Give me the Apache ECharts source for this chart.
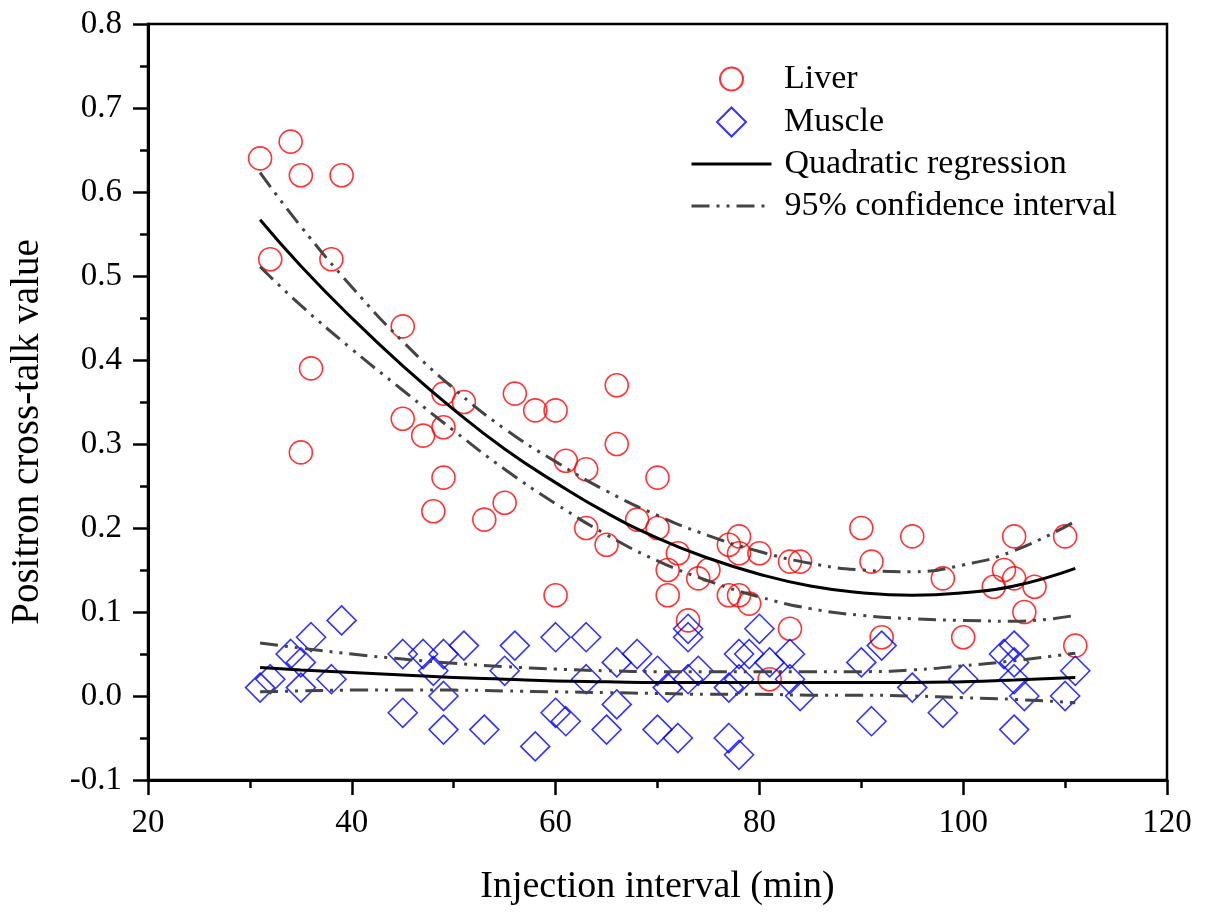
<!DOCTYPE html>
<html>
<head>
<meta charset="utf-8">
<script src="https://cdn.jsdelivr.net/npm/echarts@6/dist/echarts.min.js"></script>
<style>
html,body{margin:0;padding:0;background:#fff;}
#chart{width:1208px;height:912px;}
</style>
</head>
<body>
<div id="chart"></div>
<script>
// Scatter data
const liverX = [31,32,34,35,35,36,38,39,45,45,47,48,49,49,49,51,53,55,56,58,60,60,61,63,63,65,66,66,68,70,70,71,71,72,73,74,75,77,77,78,78,78,79,80,81,83,83,84,90,91,92,95,98,100,103,104,105,105,106,107,110,111];
const liverY = [0.64,0.52,0.66,0.62,0.29,0.39,0.52,0.62,0.44,0.33,0.31,0.22,0.36,0.32,0.26,0.35,0.21,0.23,0.36,0.34,0.34,0.12,0.28,0.27,0.20,0.18,0.37,0.30,0.21,0.26,0.20,0.15,0.12,0.17,0.09,0.14,0.15,0.18,0.12,0.19,0.17,0.12,0.11,0.17,0.02,0.16,0.08,0.16,0.20,0.16,0.07,0.19,0.14,0.07,0.13,0.15,0.19,0.14,0.10,0.13,0.19,0.06];
const muscleX = [31,32,34,35,35,36,38,39,45,45,47,48,49,49,49,51,53,55,56,58,60,60,61,63,63,65,66,66,68,70,70,71,72,73,73,73,74,77,77,78,78,78,79,80,81,83,83,84,90,91,92,95,98,100,104,105,105,105,106,105,110,111];
const muscleY = [0.01,0.02,0.05,0.04,0.01,0.07,0.02,0.09,0.05,-0.02,0.05,0.03,0.05,0.00,-0.04,0.06,-0.04,0.03,0.06,-0.06,0.07,-0.02,-0.03,0.07,0.02,-0.04,0.04,-0.01,0.05,0.03,-0.04,0.01,-0.05,0.08,0.07,0.02,0.03,0.01,-0.05,0.05,0.02,-0.07,0.05,0.08,0.04,0.05,0.02,0.00,0.04,-0.03,0.06,0.01,-0.02,0.02,0.05,0.06,0.04,0.02,0.00,-0.04,0.00,0.03];

// Regression curves
const regX = [31,35,40,45,50,55,60,65,70,75,80,85,90,95,100,105,111];
const liverFit   = [0.567,0.512,0.450,0.393,0.341,0.294,0.254,0.218,0.188,0.164,0.145,0.131,0.123,0.120,0.123,0.131,0.152];
const liverUpper = [0.623,0.559,0.487,0.422,0.366,0.318,0.279,0.244,0.215,0.191,0.172,0.158,0.150,0.148,0.156,0.173,0.208];
const liverLower = [0.511,0.465,0.413,0.364,0.316,0.270,0.229,0.192,0.161,0.137,0.118,0.104,0.096,0.092,0.090,0.089,0.096];
const muscleFit   = [0.034,0.031,0.028,0.025,0.022,0.020,0.018,0.017,0.016,0.016,0.016,0.016,0.016,0.016,0.017,0.019,0.022];
const muscleUpper = [0.063,0.057,0.050,0.044,0.039,0.035,0.032,0.030,0.029,0.029,0.029,0.029,0.029,0.031,0.036,0.042,0.051];
const muscleLower = [0.005,0.006,0.007,0.007,0.007,0.006,0.005,0.004,0.003,0.002,0.002,0.001,0.001,0.000,-0.002,-0.004,-0.008];

const xTicks = [20,40,60,80,100,120];
const yTicks = [-0.1,0,0.1,0.2,0.3,0.4,0.5,0.6,0.7,0.8];
const legendNames = ['Liver','Muscle','Quadratic regression','95% confidence interval'];

const FONT = 'Liberation Serif';
const pairs = (xs, ys) => xs.map((x, i) => [x, ys[i]]);

const dashDot = [18,7,3,7,3,7];
function fitLine(name, ys) {
  return {name, type:'line', data: pairs(regX, ys), symbol:'none', smooth:true, silent:true, z:3,
    lineStyle:{color:'#000', width:3, type:'solid'}, itemStyle:{color:'#000'}};
}
function ciLine(name, ys) {
  return {name, type:'line', data: pairs(regX, ys), symbol:'none', smooth:true, silent:true, z:3,
    lineStyle:{color:'#444', width:3, type:dashDot}, itemStyle:{color:'#444'}};
}
const legTxt = pad => ({fontFamily:FONT, fontSize:34, color:'#000', padding:[0,0,0,pad]});

const chart = echarts.init(document.getElementById('chart'), null, {renderer:'canvas'});
chart.setOption({
  animation:false,
  backgroundColor:'#fff',
  grid:{left:148, right:41, top:24, bottom:132, show:true, borderColor:'#000', borderWidth:2.5, backgroundColor:'transparent'},
  legend:[
    {orient:'vertical', left:719, top:62, padding:0, itemWidth:23, itemHeight:23, selectedMode:false,
      textStyle:legTxt(36), data:[legendNames[0]]},
    {orient:'vertical', left:716, top:105, padding:0, itemWidth:29, itemHeight:29, selectedMode:false,
      textStyle:legTxt(33), data:[legendNames[1]]},
    {orient:'vertical', left:690, top:147, padding:0, itemWidth:80, itemHeight:24, itemGap:8, selectedMode:false,
      lineStyle:{width:3},
      textStyle:legTxt(8),
      data:[{name:legendNames[2], itemStyle:{opacity:0}}, {name:legendNames[3], itemStyle:{opacity:0}}]}
  ],
  xAxis:{
    type:'value', min:xTicks[0], max:xTicks[xTicks.length-1], interval:20,
    name:'Injection interval (min)', nameLocation:'middle', nameGap:88,
    nameTextStyle:{fontFamily:FONT, fontSize:38, color:'#000'},
    axisLine:{show:true, onZero:false, lineStyle:{color:'#000', width:3}},
    axisTick:{show:true, inside:false, length:15, lineStyle:{color:'#000', width:2.5}},
    minorTick:{show:true, splitNumber:2, length:8, lineStyle:{color:'#000', width:2.5}},
    axisLabel:{fontFamily:FONT, fontSize:33, color:'#000', margin:27},
    splitLine:{show:false}
  },
  yAxis:{
    type:'value', min:yTicks[0], max:yTicks[yTicks.length-1], interval:0.1,
    name:'Positron cross-talk value', nameLocation:'middle', nameGap:101,
    nameTextStyle:{fontFamily:FONT, fontSize:39, color:'#000', padding:[0,60,0,0]},
    axisLine:{show:true, onZero:false, lineStyle:{color:'#000', width:3}},
    axisTick:{show:true, inside:false, length:15, lineStyle:{color:'#000', width:2.5}},
    minorTick:{show:true, splitNumber:2, length:8, lineStyle:{color:'#000', width:2.5}},
    axisLabel:{fontFamily:FONT, fontSize:33, color:'#000', margin:26, formatter:v => v.toFixed(1)},
    splitLine:{show:false}
  },
  series:[
    {name:'Liver', type:'scatter', data:pairs(liverX, liverY), symbol:'circle', symbolSize:23, z:2,
      itemStyle:{color:'rgba(255,255,255,0)', borderColor:'#ff0000', borderWidth:1.6}},
    {name:'Muscle', type:'scatter', data:pairs(muscleX, muscleY), symbol:'diamond', symbolSize:29, z:2,
      itemStyle:{color:'rgba(255,255,255,0)', borderColor:'#0000ff', borderWidth:1.6}},
    fitLine('Quadratic regression', liverFit),
    fitLine('Quadratic regression', muscleFit),
    ciLine('95% confidence interval', liverUpper),
    ciLine('95% confidence interval', liverLower),
    ciLine('95% confidence interval', muscleUpper),
    ciLine('95% confidence interval', muscleLower)
  ]
});
</script>
</body>
</html>
